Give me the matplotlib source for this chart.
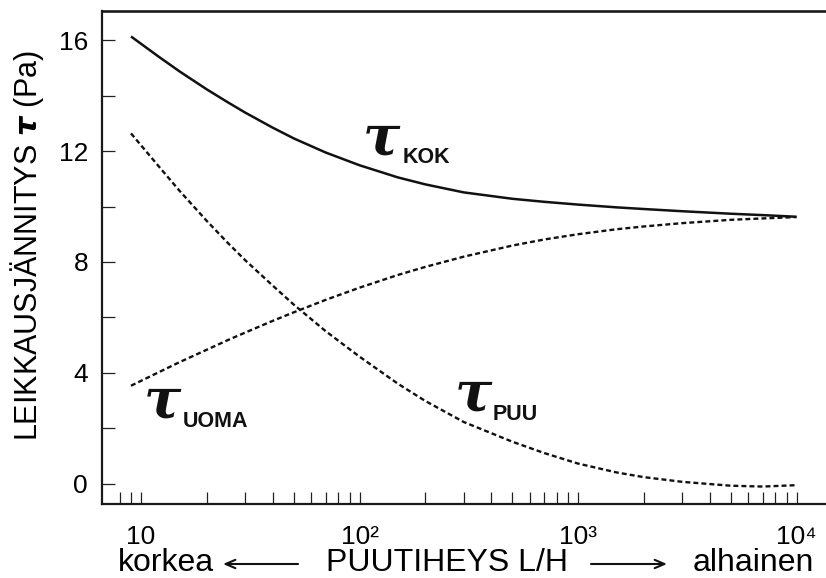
import matplotlib
matplotlib.use("Agg")
from matplotlib import pyplot as plt
from matplotlib.ticker import FixedLocator, NullFormatter

# data
x_lh = [9, 12, 15, 20, 25, 30, 40, 50, 70, 100, 150, 200, 300, 500, 700,
        1000, 1500, 2000, 3000, 5000, 7000, 10000]
tau_kok = [16.14, 15.42, 14.88, 14.23, 13.76, 13.39, 12.85, 12.46, 11.95, 11.49, 11.05,
           10.80, 10.51, 10.28, 10.17, 10.07, 9.97, 9.91, 9.83, 9.74, 9.69, 9.63]
tau_uoma = [3.53, 4.01, 4.38, 4.83, 5.18, 5.45, 5.87, 6.18, 6.63, 7.07, 7.53,
            7.82, 8.19, 8.59, 8.81, 9.00, 9.18, 9.28, 9.40, 9.52, 9.57, 9.62]
tau_puu = [12.64, 11.47, 10.57, 9.48, 8.68, 8.06, 7.15, 6.46, 5.50, 4.58, 3.60,
           2.98, 2.22, 1.51, 1.10, 0.72, 0.40, 0.23, 0.06, -0.08, -0.11, -0.06]

x_major = [10, 100, 1000, 10000]
x_major_labels = ["10", "10²", "10³", "10⁴"]
x_minor = [8, 9] + [k * 10 ** d for d in (1, 2, 3) for k in range(2, 10)]
y_major = [0, 4, 8, 12, 16]
y_minor = [2, 6, 10, 14]

plt.rcParams['font.family'] = ['Liberation Sans', 'DejaVu Sans']
plt.rcParams['mathtext.fontset'] = 'custom'
plt.rcParams['mathtext.rm'] = 'Liberation Sans'
plt.rcParams['mathtext.it'] = 'DejaVu Sans:italic:bold'

W, H = 826, 578
fig = plt.figure(figsize=(W / 100, H / 100), dpi=100)
ax = fig.add_axes([102 / W, 74 / H, 724 / W, 493.3 / H])

ax.plot(x_lh, tau_kok, color='#111111', lw=1.8, solid_capstyle='butt')
ax.plot(x_lh, tau_uoma, color='#111111', lw=1.7, linestyle=(0, (2.1, 1.3)))
ax.plot(x_lh, tau_puu, color='#111111', lw=1.7, linestyle=(0, (2.1, 1.3)))

ax.set_xscale('log')
ax.set_xlim(6.63, 13640)
ax.set_ylim(-0.74, 17.07)

ax.xaxis.set_major_locator(FixedLocator(x_major))
ax.xaxis.set_minor_locator(FixedLocator(x_minor))
ax.set_xticklabels(x_major_labels)
ax.xaxis.set_minor_formatter(NullFormatter())
ax.yaxis.set_major_locator(FixedLocator(y_major))
ax.yaxis.set_minor_locator(FixedLocator(y_minor))

ax.tick_params(axis='both', which='both', direction='in', length=9, width=0.9,
               color='#222222', labelsize=19, top=False, right=False)
ax.tick_params(axis='x', which='major', pad=15)
ax.tick_params(axis='y', which='major', pad=10)

ax.spines['right'].set_visible(False)
ax.spines['top'].set_linewidth(1.9)
ax.spines['left'].set_linewidth(1.6)
ax.spines['bottom'].set_linewidth(1.6)
for s in ax.spines.values():
    s.set_color('#1a1a1a')

def px(x, y):
    return x / W, 1 - y / H

# y label
fig.text(*px(27, 246), r"LEIKKAUSJÄNNITYS $\tau$ (Pa)", rotation=90,
         ha='center', va='center', fontsize=22)

# curve labels
tau_kw = dict(fontfamily='DejaVu Serif', fontweight='bold', fontstyle='italic',
              fontsize=40, ha='left', va='baseline', color='#111111')
sub_kw = dict(fontweight='bold', fontsize=15.5, ha='left', va='baseline', color='#111111')
fig.text(*px(363, 155), "τ", **tau_kw)
fig.text(*px(403, 163), "KOK", **sub_kw)
fig.text(*px(144, 418), "τ", **tau_kw)
fig.text(*px(183, 427), "UOMA", **sub_kw)
fig.text(*px(455, 411), "τ", **tau_kw)
fig.text(*px(493, 420), "PUU", **sub_kw)

# bottom caption with arrows
fig.text(*px(118, 571), "korkea", ha='left', va='baseline', fontsize=23)
fig.text(*px(326, 571), "PUUTIHEYS L/H", ha='left', va='baseline', fontsize=23)
fig.text(*px(693, 571), "alhainen", ha='left', va='baseline', fontsize=23)
arrow = dict(arrowstyle='->,head_length=0.7,head_width=0.3', lw=1.5, color='#111111',
             shrinkA=0, shrinkB=0)
ax.annotate('', xy=(223, H - 564), xytext=(298, H - 564), xycoords='figure pixels',
            textcoords='figure pixels', arrowprops=arrow, annotation_clip=False)
ax.annotate('', xy=(667, H - 564), xytext=(591, H - 564), xycoords='figure pixels',
            textcoords='figure pixels', arrowprops=arrow, annotation_clip=False)

fig.savefig("out.png", dpi=100)
plt.close(fig)
